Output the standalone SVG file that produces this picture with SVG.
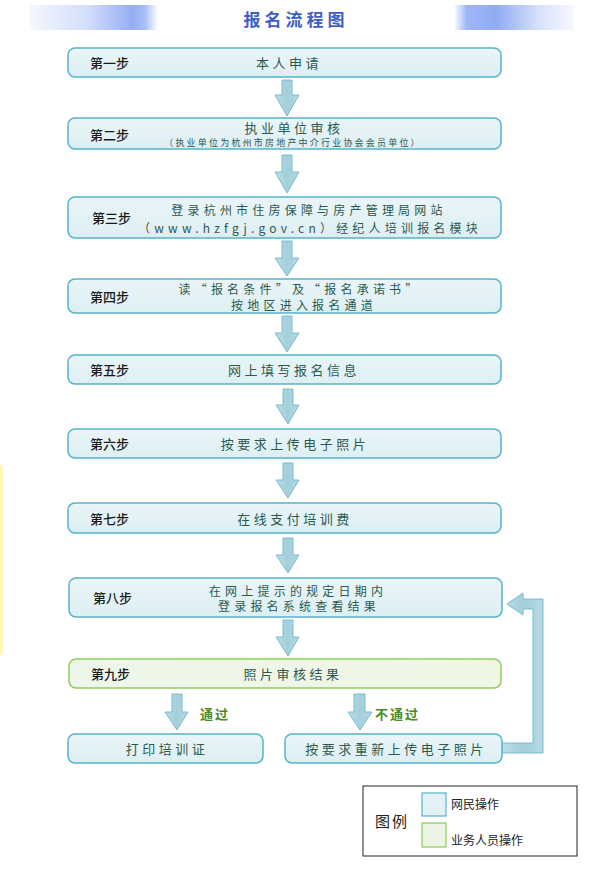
<svg xmlns="http://www.w3.org/2000/svg" width="590" height="873" viewBox="0 0 590 873">
<defs>
<linearGradient id="gBlue" x1="0" y1="0" x2="0" y2="1">
<stop offset="0" stop-color="#eaf5f8"/><stop offset="1" stop-color="#ddeff3"/>
</linearGradient>
<linearGradient id="gGreen" x1="0" y1="0" x2="1" y2="0">
<stop offset="0" stop-color="#eef6ea"/><stop offset="1" stop-color="#f1f6e4"/>
</linearGradient>
<linearGradient id="gArrow" x1="0" y1="0" x2="1" y2="0">
<stop offset="0" stop-color="#bcdde6"/><stop offset="0.5" stop-color="#a3cfdb"/><stop offset="1" stop-color="#b6d9e3"/>
</linearGradient>
<linearGradient id="hdrL" x1="0" y1="0" x2="1" y2="0">
<stop offset="0" stop-color="#f4f7ff"/><stop offset="0.45" stop-color="#d4defb"/><stop offset="0.8" stop-color="#93aef4"/><stop offset="0.9" stop-color="#a9bff6"/><stop offset="1" stop-color="#ffffff"/>
</linearGradient>
<linearGradient id="hdrR" x1="0" y1="0" x2="1" y2="0">
<stop offset="0" stop-color="#f4f7ff"/><stop offset="0.1" stop-color="#9fb7f5"/><stop offset="0.35" stop-color="#8fabf3"/><stop offset="0.7" stop-color="#d6e0fb"/><stop offset="1" stop-color="#f6f8ff"/>
</linearGradient>
<style>
.box{fill:url(#gBlue);stroke:#55b4c8;stroke-width:1.5}
.gbox{fill:url(#gGreen);stroke:#8ccf5c;stroke-width:1.5}
.arr{fill:url(#gArrow);stroke:#78bccd;stroke-width:1}
.step{font-family:"Noto Sans CJK SC","Noto Sans",sans-serif;font-size:13px;font-weight:500;fill:#1a1a1a;dominant-baseline:central}
.main{font-family:"Noto Sans CJK SC","Noto Sans",sans-serif;font-size:13px;fill:#2d5a4e;text-anchor:middle;dominant-baseline:central;letter-spacing:3.5px}
.two{font-size:12px;letter-spacing:4.2px}
.sub{font-family:"Noto Sans CJK SC","Noto Sans",sans-serif;font-size:9px;fill:#2d5a4e;text-anchor:middle;dominant-baseline:central;letter-spacing:2.2px}
.lbl{font-family:"Noto Sans CJK SC","Noto Sans",sans-serif;font-size:13px;font-weight:bold;fill:#4a8a22;dominant-baseline:central;letter-spacing:2px}
.leg{font-family:"Noto Sans CJK SC","Noto Sans",sans-serif;font-size:12px;fill:#222;dominant-baseline:central}
</style>
</defs>
<rect width="590" height="873" fill="#ffffff"/>
<rect x="0" y="465" width="3" height="190" fill="#fff6b8"/>
<g id="header">
<rect x="30" y="5" width="128" height="25" fill="url(#hdrL)"/>
<rect x="455" y="5" width="118" height="25" fill="url(#hdrR)"/>
<text x="296" y="18" font-family="'Noto Sans CJK SC',sans-serif" font-size="17" font-weight="bold" fill="#3d5ec6" text-anchor="middle" dominant-baseline="central" letter-spacing="4">报名流程图</text>
</g>
<g id="connectors">
<polygon class="arr" points="282,80 292,80 292,95 299,95 287,116 275,95 282,95"/>
<polygon class="arr" points="282,155 292,155 292,172 299,172 287,193 275,172 282,172"/>
<polygon class="arr" points="282,241 292,241 292,258 299,258 287,276 275,258 282,258"/>
<polygon class="arr" points="282,316 292,316 292,333 299,333 287,352 275,333 282,333"/>
<polygon class="arr" points="283,389 293,389 293,405 299,405 288,424 276,405 283,405"/>
<polygon class="arr" points="283,463 293,463 293,480 299,480 288,498 276,480 283,480"/>
<polygon class="arr" points="283,538 293,538 293,555 299,555 288,573 276,555 283,555"/>
<polygon class="arr" points="283,620 293,620 293,637 299,637 288,656 276,637 283,637"/>
<polygon class="arr" points="172,694 182,694 182,712 188,712 177,730 165,712 172,712"/>
<polygon class="arr" points="354,694 365,694 365,712 372,712 360,730 348,712 354,712"/>
<polygon class="arr" points="502,743 533,743 533,609 523,609 523,615 507,604 523,593 523,599 543,599 543,753 502,753"/>
</g>
<g id="step1"><rect class="box" x="68" y="48" width="433" height="29" rx="7"/><text class="step" x="90" y="62.5">第一步</text><text class="main" x="289" y="62.5">本人申请</text></g>
<g id="step2"><rect class="box" x="68" y="118" width="433" height="31" rx="7"/><text class="step" x="90" y="134">第二步</text><text class="main" x="294" y="127">执业单位审核</text><text class="sub" x="293" y="142.5">（执业单位为杭州市房地产中介行业协会会员单位）</text></g>
<g id="step3"><rect class="box" x="68" y="197" width="433" height="41" rx="7"/><text class="step" x="92" y="217.5">第三步</text><text class="main two" x="309" y="209">登录杭州市住房保障与房产管理局网站</text><text class="main two" x="310" y="227" letter-spacing="2.6">（www.hzfgj.gov.cn）经纪人培训报名模块</text></g>
<g id="step4"><rect class="box" x="68" y="279" width="433" height="34" rx="7"/><text class="step" x="90" y="296.5">第四步</text><text class="main two" x="300" y="288.5">读“报名条件”及“报名承诺书”</text><text class="main two" x="304" y="304.5">按地区进入报名通道</text></g>
<g id="step5"><rect class="box" x="68" y="355" width="433" height="29" rx="7"/><text class="step" x="90" y="369.5">第五步</text><text class="main" x="294" y="369.5">网上填写报名信息</text></g>
<g id="step6"><rect class="box" x="68" y="429" width="433" height="29" rx="7"/><text class="step" x="90" y="443.5">第六步</text><text class="main" x="295" y="443.5">按要求上传电子照片</text></g>
<g id="step7"><rect class="box" x="68" y="503" width="433" height="30" rx="7"/><text class="step" x="90" y="518">第七步</text><text class="main" x="295" y="518">在线支付培训费</text></g>
<g id="step8"><rect class="box" x="69" y="578" width="433" height="39" rx="7"/><text class="step" x="93" y="597">第八步</text><text class="main two" x="298" y="590">在网上提示的规定日期内</text><text class="main two" x="299" y="605.5">登录报名系统查看结果</text></g>
<g id="step9"><rect class="gbox" x="69" y="659" width="432" height="29" rx="7"/><text class="step" x="91" y="673.5">第九步</text><text class="main" x="293" y="673.5">照片审核结果</text></g>
<g id="pass"><text class="lbl" x="200" y="713">通过</text></g>
<g id="fail"><text class="lbl" x="375" y="713">不通过</text></g>
<g id="print"><rect class="box" x="68" y="734" width="195" height="29" rx="7"/><text class="main" x="167" y="748.5">打印培训证</text></g>
<g id="reupload"><rect class="box" x="285" y="734" width="217" height="29" rx="7"/><text class="main" x="396" y="748.5">按要求重新上传电子照片</text></g>
<g id="legend">
<rect x="363" y="786" width="214" height="70" fill="#ffffff" stroke="#222" stroke-width="1"/>
<text x="375" y="820" font-family="'Noto Sans CJK SC',sans-serif" font-size="15" fill="#222" dominant-baseline="central" letter-spacing="2">图例</text>
<rect x="422" y="793" width="24" height="23" fill="#e3f1f5" stroke="#55b4c8" stroke-width="1.2"/>
<text class="leg" x="451" y="803">网民操作</text>
<rect x="422" y="823" width="24" height="24" fill="#eaf3e4" stroke="#88cc55" stroke-width="1.2"/>
<text class="leg" x="451" y="839">业务人员操作</text>
</g>
</svg>
